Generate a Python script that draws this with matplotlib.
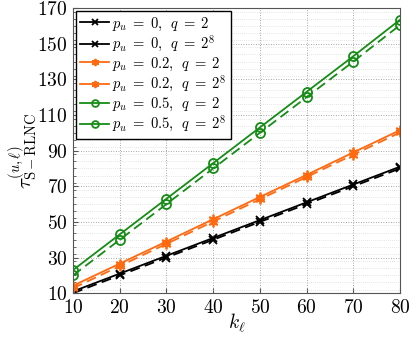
import matplotlib
matplotlib.use("Agg")
import matplotlib.pyplot as plt
from matplotlib.ticker import MultipleLocator
import numpy as np

plt.rcParams["font.family"] = "cmr10"
plt.rcParams["mathtext.fontset"] = "cm"
plt.rcParams["axes.formatter.use_mathtext"] = True

k = [10, 20, 30, 40, 50, 60, 70, 80]
p0_q2 = [11, 21, 31, 41, 51, 61, 71, 81]
p0_q256 = [10, 20, 30, 40, 50, 60, 70, 80]
p02_q2 = [14.2, 26.6, 39, 51.5, 64, 76.4, 89, 101.5]
p02_q256 = [12.8, 25.2, 37.7, 50.2, 62.7, 75.2, 87.7, 100.2]
p05_q2 = [23, 43, 63, 83, 103, 123, 143, 163.5]
p05_q256 = [20, 40, 60, 80, 100, 120, 140, 160.5]

black = "black"
orange = "#FF6A10"
green = "#168C16"
asterisk = (6, 2, 0)

series = [
    (p0_q2, black, "x", "-", r"$p_u\;=\;0,\ \,q\;=\;2$"),
    (p0_q256, black, "x", "--", r"$p_u\;=\;0,\ \,q\;=\;2^8$"),
    (p02_q2, orange, asterisk, "-", r"$p_u\;=\;0.2,\ \,q\;=\;2$"),
    (p02_q256, orange, asterisk, "--", r"$p_u\;=\;0.2,\ \,q\;=\;2^8$"),
    (p05_q2, green, "o", "-", r"$p_u\;=\;0.5,\ \,q\;=\;2$"),
    (p05_q256, green, "o", "--", r"$p_u\;=\;0.5,\ \,q\;=\;2^8$"),
]

fig, ax = plt.subplots(figsize=(4.15, 3.37), dpi=100)
fig.subplots_adjust(left=0.176, right=0.964, bottom=0.13, top=0.976)

for y, c, m, ls, lab in series:
    ax.plot(k, y, color=c, linestyle=ls, linewidth=1.3, marker=m,
            markersize={"o": 6.5, "x": 5.5}.get(m, 7),
            markerfacecolor="none" if m == "o" else c,
            markeredgewidth=1.3, label=lab,
            dashes=(5.5, 3) if ls == "--" else (None, None))

ax.set_xlim(10, 80)
ax.set_ylim(10, 170)
ax.set_xticks(np.arange(10, 81, 10))
ax.set_yticks(np.arange(10, 171, 20))
ax.yaxis.set_minor_locator(MultipleLocator(4))
ax.grid(which="major", linestyle=(0, (1, 2)), linewidth=0.6, color="#8a8a8a")
ax.grid(which="minor", axis="y", linestyle=(0, (1, 2)), linewidth=0.5, color="#cccccc")
ax.tick_params(which="both", direction="in", labelsize=14, color="#555555", pad=4)
ax.tick_params(which="minor", length=2)
ax.tick_params(which="major", length=3.5)
for s in ax.spines.values():
    s.set_color("#555555")

ax.set_xlabel(r"$k_\ell$", fontsize=14, labelpad=-4)
ax.set_ylabel(r"$\tau^{(u,\ell)}_{\mathrm{S-RLNC}}$", fontsize=15, labelpad=-2)

leg = ax.legend(loc="upper left", fontsize=10.5, frameon=True, fancybox=False,
                edgecolor="black", framealpha=1, borderaxespad=0.2,
                handlelength=2.0, handletextpad=0.2, labelspacing=0.1,
                borderpad=0.3, markerscale=0.75)
leg.get_frame().set_linewidth(1.0)
for line in leg.get_lines():
    line.set_linestyle("-")

fig.savefig("out.png", dpi=100)
